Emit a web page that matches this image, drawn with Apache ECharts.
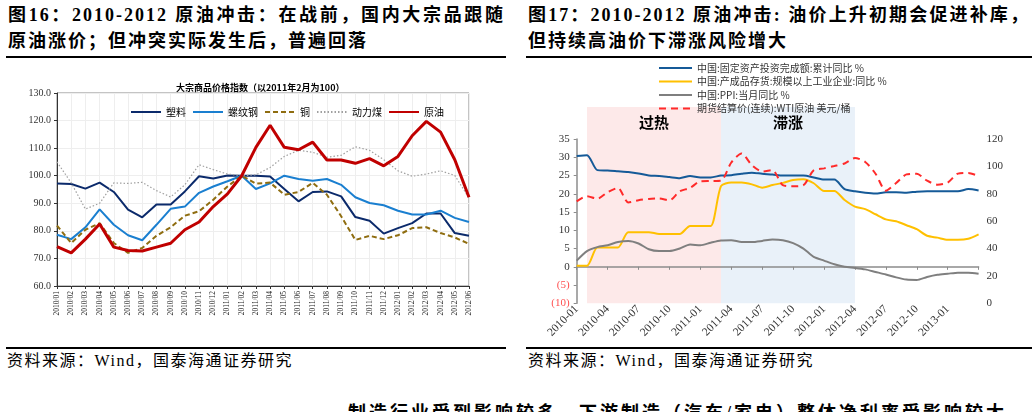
<!DOCTYPE html>
<html>
<head>
<meta charset="utf-8">
<script src="https://cdn.jsdelivr.net/npm/echarts@6/dist/echarts.min.js"></script>
<style>
body{margin:0;background:#fff;}
#page{position:relative;width:1032px;height:412px;overflow:hidden;background:#fff;font-family:"Liberation Serif","Noto Sans CJK SC",serif;color:#000;}
.hd{position:absolute;font-weight:bold;font-size:18px;line-height:26px;letter-spacing:2px;}
.hd div{overflow:hidden;height:26px;}
.hd .fill{text-align:justify;text-align-last:justify;}
.rule{position:absolute;height:2px;background:#000;}
.src{position:absolute;font-size:16px;line-height:20px;letter-spacing:1.5px;white-space:nowrap;}
.chart{position:absolute;}
.foot{position:absolute;font-weight:bold;font-size:18px;line-height:24px;white-space:nowrap;letter-spacing:3px;}
</style>
</head>
<body>
<div id="page">
  <div class="hd" style="left:8px;top:2px;width:497px;">
    <div class="fill">图16：2010-2012 原油冲击：在战前，国内大宗品跟随</div>
    <div>原油涨价；但冲突实际发生后，普遍回落</div>
  </div>
  <div class="rule" style="left:6px;top:56px;width:500px;"></div>
  <div class="hd" style="left:528px;top:2px;width:502px;">
    <div class="fill">图17：2010-2012 原油冲击: 油价上升初期会促进补库，</div>
    <div>但持续高油价下滞涨风险增大</div>
  </div>
  <div class="rule" style="left:526px;top:56px;width:506px;"></div>

  <div id="c16" class="chart" style="left:0;top:60px;width:515px;height:285px;"></div>
  <div id="c17" class="chart" style="left:520px;top:57px;width:512px;height:288px;"></div>

  <div class="rule" style="left:6px;top:347px;width:500px;height:1.5px;"></div>
  <div class="src" style="left:7px;top:351px;">资料来源：Wind，国泰海通证券研究</div>
  <div class="rule" style="left:526px;top:347px;width:506px;height:1.5px;"></div>
  <div class="src" style="left:528px;top:351px;">资料来源：Wind，国泰海通证券研究</div>

  <div class="foot" style="left:348px;top:401px;">制造行业受到影响较多，下游制造（汽车/家电）整体净利率受影响较大</div>
</div>

<script>
// ---- 图16 大宗商品价格指数（以2011年2月为100）
var months16 = ['2010/01','2010/02','2010/03','2010/04','2010/05','2010/06','2010/07','2010/08','2010/09','2010/10','2010/11','2010/12',
                '2011/01','2011/02','2011/03','2011/04','2011/05','2011/06','2011/07','2011/08','2011/09','2011/10','2011/11','2011/12',
                '2012/01','2012/02','2012/03','2012/04','2012/05','2012/06'];
var suliao     = [97.2,97.0,95.3,97.5,94.1,87.7,84.9,89.6,89.6,94.3,99.8,99.0,100.1,100.0,100.0,99.7,95.2,90.7,94.1,94.3,92.5,85.0,83.7,79.0,81.0,82.8,86.3,86.3,79.2,78.2];
var luowengang = [78.6,77.0,81.3,87.8,82.2,78.4,76.6,82.2,88.0,88.8,93.8,96.1,98.0,100.0,95.2,97.2,100.0,98.8,98.2,98.8,96.7,92.2,90.1,89.3,87.3,85.9,85.9,87.3,84.7,83.2];
var tong       = [81.9,75.6,80.4,82.8,75.6,72.0,73.8,78.2,81.3,85.5,87.1,91.3,96.1,100.0,97.1,97.5,93.1,94.1,97.4,93.1,85.3,76.7,78.2,77.0,78.4,81.0,81.3,79.2,77.6,75.3];
var dongliMei  = [105.0,97.4,87.9,90.0,97.4,97.2,97.6,94.6,92.3,96.7,104.0,102.2,100.6,100.0,100.3,103.0,107.0,109.2,108.5,106.7,107.4,110.5,109.2,105.8,101.8,99.8,100.6,101.8,100.1,91.9];
var yuanyou    = [74.3,72.0,77.0,82.5,74.1,72.9,72.7,74.1,75.5,80.4,83.2,88.8,93.4,100.0,110.3,118.3,110.3,109.4,112.2,105.7,105.7,104.5,106.2,103.6,107.0,114.5,119.7,115.8,105.8,92.2];

// ---- 图17
var months17 = ['2010-01','2010-02','2010-03','2010-04','2010-05','2010-06','2010-07','2010-08','2010-09','2010-10','2010-11','2010-12',
                '2011-01','2011-02','2011-03','2011-04','2011-05','2011-06','2011-07','2011-08','2011-09','2011-10','2011-11','2011-12',
                '2012-01','2012-02','2012-03','2012-04','2012-05','2012-06','2012-07','2012-08','2012-09','2012-10','2012-11','2012-12',
                '2013-01','2013-02','2013-03','2013-04'];
var fai       = [30.4,30.6,26.5,26.4,26.2,26.0,25.6,25.0,24.9,24.6,24.3,24.9,24.5,24.5,25.0,25.1,25.5,25.8,25.5,25.3,25.0,25.0,25.0,24.5,23.9,23.9,21.3,20.7,20.3,20.1,20.4,20.4,20.3,20.6,20.7,20.7,20.7,20.7,21.3,20.9];
var inventory = [0.3,0.3,5.3,5.3,5.3,9.5,9.5,9.5,9.0,9.0,9.0,11.2,11.2,11.2,22.1,23.1,23.1,22.6,21.7,22.4,23.0,23.8,24.0,22.9,20.8,20.8,18.3,16.5,15.8,14.4,13.0,12.5,11.4,10.3,8.5,8.0,7.4,7.4,7.7,8.9];
var ppi       = [1.7,4.3,5.4,5.9,6.8,7.1,6.4,4.8,4.3,4.3,5.0,6.1,5.9,6.6,7.2,7.3,6.8,6.8,7.1,7.5,7.3,6.5,5.0,2.7,1.7,0.7,0.0,-0.3,-0.7,-1.4,-2.1,-2.9,-3.5,-3.6,-2.8,-2.2,-1.9,-1.6,-1.6,-1.9];
var wti       = [74.5,78.3,76.4,81.2,84.3,73.7,75.3,76.3,76.6,75.2,81.9,84.3,89.2,89.4,89.6,102.9,109.5,100.9,96.3,97.3,86.3,85.5,86.3,97.2,98.6,100.3,102.2,106.2,103.3,94.7,82.3,87.9,94.2,94.7,89.6,86.7,88.2,94.8,95.3,92.9];
var phases = [['过热','2010-02','2011-03'],['滞涨','2011-03','2012-04']];
var phaseColors = ['#fde9e9','#e9f1f9'];
var shadeTop = 43.8;

var serif = '"Liberation Serif","Noto Sans CJK SC",serif';
var cjk = '"Noto Sans CJK SC",sans-serif';

var chart16 = echarts.init(document.getElementById('c16'));
function line16(name, data, color, width, type){
    return {name:name, type:'line', data:data, symbol:'none', legendIcon:'none',
        lineStyle:{color:color, width:width, type:type}, itemStyle:{color:color}};
}
chart16.setOption({
    animation:false,
    title:{text:'大宗商品价格指数（以2011年2月为100）', left:171, top:18,
        textStyle:{fontSize:9, fontWeight:'bold', fontFamily:cjk, color:'#000'}},
    legend:{left:125, top:42, itemWidth:30, itemHeight:10, itemGap:6,
        itemStyle:{opacity:0},
        textStyle:{fontSize:10, fontFamily:cjk, color:'#000'}},
    grid:{left:57, top:33, width:412, height:193, show:true, borderColor:'#888', borderWidth:1},
    xAxis:{type:'category', data:months16, boundaryGap:false,
        axisLine:{lineStyle:{color:'#333'}},
        axisTick:{interval:0, length:3, lineStyle:{color:'#333'}},
        splitLine:{show:true, interval:0, lineStyle:{color:'#eeeeee'}},
        axisLabel:{interval:0, rotate:90, fontSize:7.5, fontFamily:serif, color:'#222', margin:5}},
    yAxis:{type:'value', min:60, max:130, interval:10,
        axisLine:{show:true, lineStyle:{color:'#333'}},
        axisTick:{show:true, length:3, lineStyle:{color:'#333'}},
        splitLine:{lineStyle:{color:'#eeeeee'}},
        axisLabel:{fontSize:10, fontFamily:serif, color:'#333', margin:6,
            formatter:function(v){ return v.toFixed(1); }}},
    series:[
        line16('塑料', suliao, '#0b2a6b', 2, 'solid'),
        line16('螺纹钢', luowengang, '#1a7fd0', 2, 'solid'),
        line16('铜', tong, '#8f6d10', 2, [5,3]),
        line16('动力煤', dongliMei, '#a0a0a0', 1.2, [1.5,2]),
        line16('原油', yuanyou, '#c00000', 3, 'solid')
    ]
});

var chart17 = echarts.init(document.getElementById('c17'));
function line17(name, data, color, yIdx, type){
    return {name:name, type:'line', data:data, symbol:'none', legendIcon:'none', smooth:0.25, yAxisIndex:yIdx,
        lineStyle:{color:color, width:2, type:type}, itemStyle:{color:color}};
}
chart17.setOption({
    animation:false,
    legend:{orient:'vertical', left:133, top:0, itemWidth:33, itemHeight:10, itemGap:1.5,
        itemStyle:{opacity:0},
        textStyle:{fontSize:10, fontFamily:cjk, color:'#333', lineHeight:12}},
    grid:{left:56.7, top:82.1, width:401.9, height:164.2},
    xAxis:[
        {type:'category', data:months17, boundaryGap:false, position:'bottom',
         axisLine:{show:false, onZero:false}, axisTick:{show:false},
         axisLabel:{rotate:45, fontSize:11.5, fontFamily:serif, color:'#333', margin:4,
            interval:function(i){ return i % 3 === 0 && i < months17.length - 1; }}},
        {type:'category', data:months17, boundaryGap:false, position:'bottom',
         axisLine:{show:true, onZero:true, onZeroAxisIndex:0, lineStyle:{color:'#8c8c8c', width:1.5}},
         axisTick:{show:true, length:3, interval:function(i){ return i % 3 === 0; }, lineStyle:{color:'#8c8c8c'}},
         axisLabel:{show:false}}
    ],
    yAxis:[
        {type:'value', min:-10, max:35, interval:5, position:'left',
         axisLine:{show:true, lineStyle:{color:'#8c8c8c', width:1.5}},
         axisTick:{show:true, length:3, lineStyle:{color:'#8c8c8c'}},
         splitLine:{show:false},
         axisLabel:{fontSize:11, fontFamily:serif, color:'#333', margin:7,
            formatter:function(v){ return v < 0 ? '{neg|(' + (-v) + ')}' : String(v); },
            rich:{neg:{color:'#ff5050', fontSize:11, fontFamily:serif}}}},
        {type:'value', min:0, max:120, interval:20, position:'right',
         axisLine:{show:false}, axisTick:{show:false}, splitLine:{show:false},
         axisLabel:{fontSize:11, fontFamily:serif, color:'#333', margin:8}}
    ],
    series:[
        line17('中国:固定资产投资完成额:累计同比 %', fai, '#155a98', 0, 'solid'),
        line17('中国:产成品存货:规模以上工业企业:同比 %', inventory, '#ffc000', 0, 'solid'),
        line17('中国:PPI:当月同比 %', ppi, '#7f7f7f', 0, 'solid'),
        line17('期货结算价(连续):WTI原油 美元/桶', wti, '#ff2a2a', 1, [7,5])
    ]
});

// shaded phases, placed through the chart's own scales
var overlays = [];
phases.forEach(function(p, k){
    var x0 = chart17.convertToPixel({xAxisIndex:0}, p[1]);
    var x1 = chart17.convertToPixel({xAxisIndex:0}, p[2]);
    var yTop = chart17.convertToPixel({yAxisIndex:0}, shadeTop);
    var yBot = chart17.convertToPixel({yAxisIndex:0}, -10);
    overlays.push({type:'rect', z:-1, shape:{x:x0, y:yTop, width:x1 - x0, height:yBot - yTop},
        style:{fill:phaseColors[k]}});
    overlays.push({type:'text', z:5, x:(x0 + x1) / 2, y:yTop + 15,
        style:{text:p[0], textAlign:'center', textVerticalAlign:'middle', align:'center', verticalAlign:'middle',
            fontSize:15, fontWeight:'bold', fontFamily:cjk, fill:'#000'}});
});
chart17.setOption({graphic:overlays});
</script>
</body>
</html>
